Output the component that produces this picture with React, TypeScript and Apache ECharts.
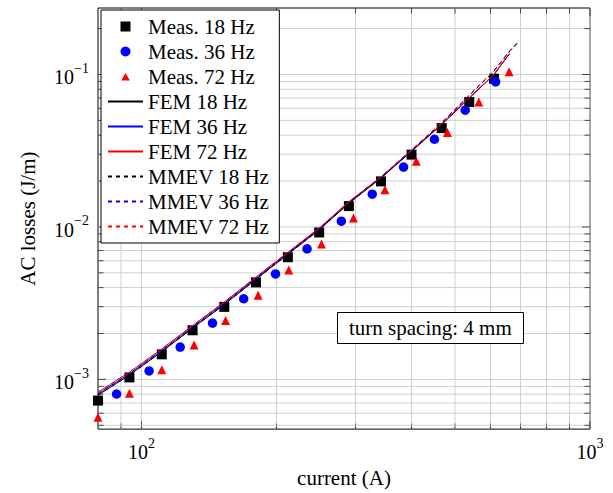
import React, { useEffect, useRef } from 'react';
import * as echarts from 'echarts';

const FONT = "'Liberation Serif', serif";

// Measurements
const meas18Current = [80, 94, 111, 130, 153, 180, 212, 249, 290, 342, 400, 467, 538, 611];
const meas18Loss = [7.26e-4, 1.03e-3, 1.46e-3, 2.1e-3, 2.99e-3, 4.33e-3, 6.33e-3, 9.2e-3, 1.37e-2, 1.99e-2, 2.98e-2, 4.45e-2, 6.6e-2, 9.38e-2];

const meas36Current = [88, 104, 122, 144, 169, 199, 234, 279, 327, 384, 450, 527, 616];
const meas36Loss = [8.02e-4, 1.136e-3, 1.63e-3, 2.34e-3, 3.38e-3, 4.92e-3, 7.19e-3, 1.09e-2, 1.64e-2, 2.47e-2, 3.76e-2, 5.83e-2, 8.96e-2];

const meas72Current = [80, 94, 111, 131, 154, 182, 213, 252, 297, 349, 410, 481, 565, 660];
const meas72Loss = [5.65e-4, 8.11e-4, 1.158e-3, 1.678e-3, 2.433e-3, 3.567e-3, 5.22e-3, 7.73e-3, 1.145e-2, 1.755e-2, 2.7e-2, 4.17e-2, 6.6e-2, 0.1041];

// FEM
const femCurrent = [80, 94, 111, 130, 153, 180, 212, 249, 290, 342, 400, 467, 538, 611, 661];
const fem18Loss = [7.88e-4, 1.067e-3, 1.52e-3, 2.17e-3, 3.1e-3, 4.53e-3, 6.62e-3, 9.57e-3, 1.43e-2, 2.09e-2, 3.13e-2, 4.69e-2, 7.0e-2, 0.0998, 0.1365];
const fem36Loss = [8.05e-4, 1.09e-3, 1.55e-3, 2.21e-3, 3.16e-3, 4.61e-3, 6.72e-3, 9.7e-3, 1.45e-2, 2.11e-2, 3.16e-2, 4.72e-2, 7.03e-2, 0.1, 0.137];
const fem72Loss = [8.25e-4, 1.115e-3, 1.585e-3, 2.255e-3, 3.22e-3, 4.69e-3, 6.82e-3, 9.83e-3, 1.465e-2, 2.13e-2, 3.18e-2, 4.74e-2, 7.05e-2, 0.1003, 0.1372];

// MMEV
const mmevCurrent = [80, 94, 111, 130, 153, 180, 212, 249, 290, 342, 400, 467, 538, 611, 660, 688];
const mmev18Loss = [7.88e-4, 1.067e-3, 1.52e-3, 2.17e-3, 3.1e-3, 4.53e-3, 6.62e-3, 9.57e-3, 1.43e-2, 2.1e-2, 3.16e-2, 4.79e-2, 7.27e-2, 0.1052, 0.1405, 0.16];
const mmev36Loss = [8.05e-4, 1.09e-3, 1.55e-3, 2.21e-3, 3.16e-3, 4.61e-3, 6.72e-3, 9.7e-3, 1.45e-2, 2.12e-2, 3.19e-2, 4.82e-2, 7.3e-2, 0.1055, 0.141, 0.1604];
const mmev72Loss = [8.25e-4, 1.115e-3, 1.585e-3, 2.255e-3, 3.22e-3, 4.69e-3, 6.82e-3, 9.83e-3, 1.465e-2, 2.14e-2, 3.21e-2, 4.85e-2, 7.33e-2, 0.1058, 0.1415, 0.161];

// Axes
const xLimits = [80, 1000];
const yLimits = [4.72e-4, 0.273];
const xMajorTicks = [100, 1000];
const xMinorTicks = [90, 200, 300, 400, 500, 600, 700, 800, 900];
const yMajorTicks = [0.001, 0.01, 0.1];
const yMinorTicks = [
  0.0005, 0.0006, 0.0007, 0.0008, 0.0009,
  0.002, 0.003, 0.004, 0.005, 0.006, 0.007, 0.008, 0.009,
  0.02, 0.03, 0.04, 0.05, 0.06, 0.07, 0.08, 0.09,
  0.2,
];

const legendNames = [
  'Meas. 18 Hz', 'Meas. 36 Hz', 'Meas. 72 Hz',
  'FEM 18 Hz', 'FEM 36 Hz', 'FEM 72 Hz',
  'MMEV 18 Hz', 'MMEV 36 Hz', 'MMEV 72 Hz',
];
const annotation = 'turn spacing: 4 mm';
const xName = 'current (A)';
const yName = 'AC losses (J/m)';

const zip = (xs: number[], ys: number[]) => xs.map((x, i) => [x, ys[i]]);

const powLabel = (v: number) => {
  const e = Math.log10(v);
  const r = Math.round(e);
  if (Math.abs(e - r) > 1e-6) return '';
  const exp = r < 0 ? '\u2212' + Math.abs(r) : String(r);
  return '{b|10}{e|' + exp + '}';
};

const richLabel = {
  b: { fontFamily: FONT, fontSize: 20, color: '#000', verticalAlign: 'bottom', lineHeight: 26 },
  e: { fontFamily: FONT, fontSize: 14, color: '#000', verticalAlign: 'top', lineHeight: 12 },
};

// legend icons (path symbols keep their aspect ratio)
const squareIcon = 'path://M0,0L10,0L10,10L0,10Z';
const triangleIcon = 'path://M5,1.5L9.3,9L0.7,9Z M0,0L0,0 M10,10L10,10';
const hiddenMarker = { color: 'rgba(0,0,0,0)', borderWidth: 0 };

export default function App() {
  const ref = useRef<HTMLDivElement>(null);
  useEffect(() => {
    if (!ref.current) return;
    const chart = echarts.init(ref.current, undefined, { renderer: 'svg' });

    const tickData: number[][] = [];
    xMajorTicks.forEach((v) => tickData.push([v, 0.01, 0, 1]));
    xMinorTicks.forEach((v) => tickData.push([v, 0.01, 0, 0]));
    yMajorTicks.forEach((v) => tickData.push([100, v, 1, 1]));
    yMinorTicks.forEach((v) => tickData.push([100, v, 1, 0]));

    const gridColor = '#cfcfcf';
    const tickColor = '#222';

    const lineSeries = (name: string, xs: number[], ys: number[], color: string, dashed: boolean) => ({
      name,
      type: 'line',
      data: zip(xs, ys),
      symbol: 'none',
      showSymbol: false,
      smooth: false,
      z: 3,
      lineStyle: { color, width: 1, type: dashed ? [4, 4] : 'solid' },
      itemStyle: { color },
    });

    const option: any = {
      animation: false,
      textStyle: { fontFamily: FONT },
      grid: {
        left: 98, right: 23, top: 8, bottom: 61,
        show: true, borderColor: '#000', borderWidth: 1, backgroundColor: 'transparent',
      },
      title: {
        text: annotation,
        left: 337, top: 312,
        padding: [5, 12, 5, 12],
        borderColor: '#000', borderWidth: 1, backgroundColor: '#fff',
        textStyle: { fontFamily: FONT, fontSize: 21, fontWeight: 'normal', color: '#000', lineHeight: 22 },
      },
      legend: {
        data: [
          { name: legendNames[0], icon: squareIcon },
          { name: legendNames[1], icon: 'circle' },
          { name: legendNames[2], icon: triangleIcon },
          { name: legendNames[3], itemStyle: hiddenMarker },
          { name: legendNames[4], itemStyle: hiddenMarker },
          { name: legendNames[5], itemStyle: hiddenMarker },
          { name: legendNames[6], itemStyle: hiddenMarker },
          { name: legendNames[7], itemStyle: hiddenMarker },
          { name: legendNames[8], itemStyle: hiddenMarker },
        ],
        orient: 'vertical',
        left: 101, top: 10,
        align: 'left',
        itemWidth: 35, itemHeight: 10, itemGap: 4,
        symbolKeepAspect: true,
        padding: [6, 10, 6, 6],
        borderColor: '#000', borderWidth: 1, backgroundColor: '#fff',
        selectedMode: false,
        textStyle: { fontFamily: FONT, fontSize: 21, color: '#000', lineHeight: 20 },
      },
      xAxis: {
        type: 'log', logBase: 10,
        min: xLimits[0], max: xLimits[1],
        name: xName, nameLocation: 'middle', nameGap: 34,
        nameTextStyle: { fontFamily: FONT, fontSize: 21, color: '#000' },
        axisLine: { show: false }, axisTick: { show: false }, splitLine: { show: false },
        axisLabel: { formatter: powLabel, margin: 7, rich: richLabel, showMinLabel: true, showMaxLabel: true },
      },
      yAxis: {
        type: 'log', logBase: 10,
        min: yLimits[0], max: yLimits[1],
        name: yName, nameLocation: 'middle', nameGap: 60,
        nameTextStyle: { fontFamily: FONT, fontSize: 21, color: '#000' },
        axisLine: { show: false }, axisTick: { show: false }, splitLine: { show: false },
        axisLabel: { formatter: powLabel, margin: 9, rich: richLabel },
      },
      series: [
        {
          name: 'grid-ticks',
          type: 'custom',
          z: 1,
          silent: true,
          data: tickData,
          encode: { x: 0, y: 1 },
          renderItem: (params: any, api: any) => {
            const cs = params.coordSys;
            const left = cs.x, right = cs.x + cs.width, top = cs.y, bottom = cs.y + cs.height;
            const kind = api.value(2);
            const major = api.value(3);
            const len = major ? 8 : 5.5;
            const pt = api.coord([api.value(0), api.value(1)]);
            const gs = { stroke: gridColor, lineWidth: 1 };
            const ts = { stroke: tickColor, lineWidth: 0.8 };
            if (kind === 0) {
              const px = pt[0];
              return {
                type: 'group',
                children: [
                  { type: 'line', shape: { x1: px, y1: top, x2: px, y2: bottom }, style: gs },
                  { type: 'line', shape: { x1: px, y1: bottom, x2: px, y2: bottom - len }, style: ts },
                  { type: 'line', shape: { x1: px, y1: top, x2: px, y2: top + len }, style: ts },
                ],
              };
            }
            const py = pt[1];
            return {
              type: 'group',
              children: [
                { type: 'line', shape: { x1: left, y1: py, x2: right, y2: py }, style: gs },
                { type: 'line', shape: { x1: left, y1: py, x2: left + len, y2: py }, style: ts },
                { type: 'line', shape: { x1: right, y1: py, x2: right - len, y2: py }, style: ts },
              ],
            };
          },
        },
        {
          name: 'Meas. 18 Hz', type: 'scatter', z: 2,
          data: zip(meas18Current, meas18Loss),
          symbol: 'rect', symbolSize: 10,
          itemStyle: { color: '#000', opacity: 1 },
        },
        {
          name: 'Meas. 36 Hz', type: 'scatter', z: 2,
          data: zip(meas36Current, meas36Loss),
          symbol: 'circle', symbolSize: 9.5,
          itemStyle: { color: '#0000ff', opacity: 1 },
        },
        {
          name: 'Meas. 72 Hz', type: 'scatter', z: 2,
          data: zip(meas72Current, meas72Loss),
          symbol: 'triangle', symbolSize: 9,
          itemStyle: { color: '#ff0000', opacity: 1 },
        },
        lineSeries('FEM 18 Hz', femCurrent, fem18Loss, '#000', false),
        lineSeries('FEM 36 Hz', femCurrent, fem36Loss, '#0000ff', false),
        lineSeries('FEM 72 Hz', femCurrent, fem72Loss, '#ff0000', false),
        lineSeries('MMEV 18 Hz', mmevCurrent, mmev18Loss, '#000', true),
        lineSeries('MMEV 36 Hz', mmevCurrent, mmev36Loss, '#0000ff', true),
        lineSeries('MMEV 72 Hz', mmevCurrent, mmev72Loss, '#ff0000', true),
      ],
    };
    chart.setOption(option);
    return () => chart.dispose();
  }, []);

  return (
    <div
      ref={ref}
      style={{ position: 'fixed', left: 0, top: 0, width: 613, height: 493, background: '#fff' }}
    />
  );
}
